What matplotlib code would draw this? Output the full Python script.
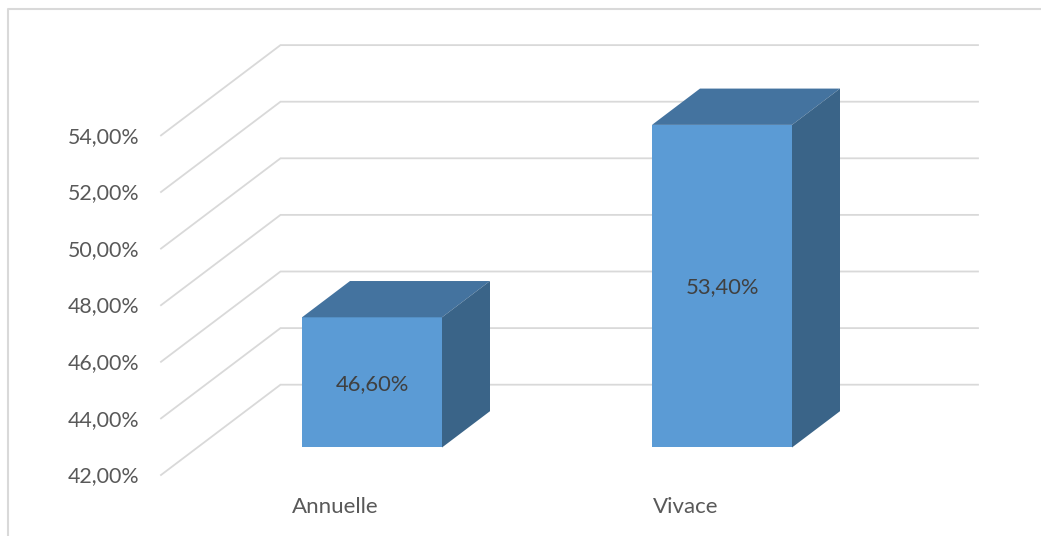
import matplotlib
matplotlib.use("Agg")
import matplotlib.pyplot as plt
from matplotlib.lines import Line2D
from matplotlib.patches import Polygon

categories = ["Annuelle", "Vivace"]
values = [46.6, 53.4]
value_labels = ["46,60%", "53,40%"]
grid_values = [42, 44, 46, 48, 50, 52, 54]
tick_labels = ["42,00%", "44,00%", "46,00%", "48,00%", "50,00%", "52,00%", "54,00%"]

W, H = 1041, 536
BASE = 42.0
PX_Y = 28.3   # pixels per percent
PX_X = 350.0  # pixels per category
X0, Y0 = 372.0, 447.5  # pixel of (category 0, 42 %) on the bars' front plane

BAR_W = 140 / PX_X
DEPTH_X, DEPTH_Y = 48 / PX_X, 36.3 / PX_Y
FRONT_X, FRONT_Y = (161 - X0) / PX_X, -27.5 / PX_Y
BACK_X, BACK_Y = (280.5 - X0) / PX_X, 62.8 / PX_Y
RIGHT_X = (978 - X0) / PX_X
TICK_X = (139.5 - X0) / PX_X
TEXT_NUDGE = -1.2 / PX_Y  # Lato sits a little high compared with the reference

FRONT_C, TOP_C, SIDE_C = "#5B9BD5", "#44739F", "#3A6488"
GRID_C, BORDER_C = "#D9D9D9", "#D9D9D9"

plt.rcParams["font.family"] = ["Lato", "DejaVu Sans"]

fig = plt.figure(figsize=(W / 100, H / 100), dpi=100)
ax = fig.add_axes([0, 0, 1, 1])
ax.set_xlim(-X0 / PX_X, (W - X0) / PX_X)
ax.set_ylim(BASE - (H - Y0) / PX_Y, BASE + Y0 / PX_Y)
ax.axis("off")

# chart frame, only left and top edges show in the crop
fig.add_artist(Line2D([8 / W, 8 / W, 1], [0, 1 - 9 / H, 1 - 9 / H], color=BORDER_C, lw=1.5))

for v, lab in zip(grid_values, tick_labels):
    ax.plot([FRONT_X, BACK_X, RIGHT_X],
            [v + FRONT_Y, v + BACK_Y, v + BACK_Y],
            color=GRID_C, lw=1.3, solid_joinstyle="miter", zorder=1)
    ax.text(TICK_X, v + FRONT_Y + TEXT_NUDGE, lab, ha="right", va="center",
            fontsize=15.4, color="#595959")

for i, (name, v, lab) in enumerate(zip(categories, values, value_labels)):
    l, r = i - BAR_W / 2, i + BAR_W / 2
    ax.bar(i, v - BASE, BAR_W, bottom=BASE, color=FRONT_C, zorder=3)
    ax.add_patch(Polygon([(l, v), (r, v), (r + DEPTH_X, v + DEPTH_Y), (l + DEPTH_X, v + DEPTH_Y)],
                         closed=True, facecolor=TOP_C, edgecolor="none", zorder=3))
    ax.add_patch(Polygon([(r, BASE), (r + DEPTH_X, BASE + DEPTH_Y), (r + DEPTH_X, v + DEPTH_Y), (r, v)],
                         closed=True, facecolor=SIDE_C, edgecolor="none", zorder=3))
    ax.text(i, (BASE + v) / 2 + TEXT_NUDGE, lab, ha="center", va="center",
            fontsize=15.8, color="#404040", zorder=4)
    ax.text(i - 0.104, BASE - 59.5 / PX_Y, name, ha="center", va="center",
            fontsize=16, color="#595959")

fig.savefig("out.png", dpi=100)
